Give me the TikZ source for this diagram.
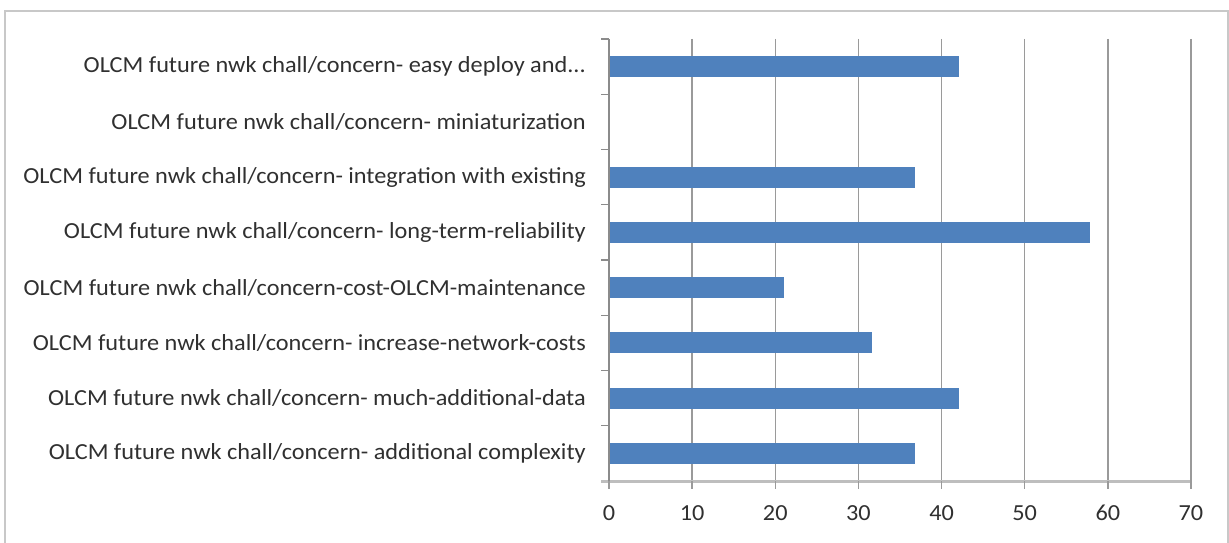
\documentclass[tikz,border=0pt]{standalone}
\usepackage{fontspec}
\usepackage{graphicx}
\setmainfont{Carlito}
\definecolor{barblue}{HTML}{4F81BD}
\definecolor{gridc}{HTML}{9A9A9A}
\definecolor{framec}{HTML}{C8C8C8}
\definecolor{axisc}{HTML}{BEBEBE}
\definecolor{textc}{HTML}{303030}
\newcommand{\stretchtxt}[1]{\scalebox{1.055}[1]{#1}}
\begin{document}
\begin{tikzpicture}[x=1pt,y=-1pt,
  catlabel/.style={anchor=east,inner sep=0pt,font=\fontsize{23}{27}\selectfont,text=textc},
  ticklabel/.style={anchor=center,inner sep=0pt,font=\fontsize{23}{27}\selectfont,text=textc},
  gridline/.style={draw=gridc,line width=1.4pt},
  bar/.style={fill=barblue,draw=none}]
\useasboundingbox (0,0) rectangle (1229,543);
\clip (0,0) rectangle (1229,543);
\fill[white] (0,0) rectangle (1229,543);
\draw[framec,line width=2.5pt] (5,11) rectangle (1228,580);
% gridlines and x ticks
\foreach \i in {1,...,7}{
  \draw[gridline] ({609+83.14*\i},39) -- ({609+83.14*\i},489);
}
% horizontal axis
\draw[axisc,line width=3pt] (601,481) -- (1190,481);
\foreach \i in {0,...,7}{
  \draw[gridc,line width=1.4pt] ({609+83.14*\i},481) -- ({609+83.14*\i},489);
  \node[ticklabel] (t\i) at ({609+83.14*\i},513) {\stretchtxt{\the\numexpr\i*10\relax}};
}
% bars (values of 19 responses, in percent)
\foreach \k/\v in {0/42.105,2/36.842,3/57.895,4/21.053,5/31.579,6/42.105,7/36.842}{
  \fill[barblue] (609,{39+55.25*(\k+0.5)-10.5}) rectangle ({609+8.314*\v},{39+55.25*(\k+0.5)+10.5});
}
% vertical axis and category ticks
\draw[gridc!90!black,line width=1.4pt] (609,39) -- (609,481);
\foreach \k in {0,...,7}{
  \draw[gridc!90!black,line width=1.4pt] (601,{39+55.25*\k}) -- (609,{39+55.25*\k});
}
% category labels
\foreach \k/\t in {0/{OLCM future nwk chall/concern- easy deploy and...},
  1/{OLCM future nwk chall/concern- miniaturization},
  2/{OLCM future nwk chall/concern- integration with existing},
  3/{OLCM future nwk chall/concern- long-term-reliability},
  4/{OLCM future nwk chall/concern-cost-OLCM-maintenance},
  5/{OLCM future nwk chall/concern- increase-network-costs},
  6/{OLCM future nwk chall/concern- much-additional-data},
  7/{OLCM future nwk chall/concern- additional complexity}}{
  \node[catlabel] (c\k) at (586,{39+55.25*(\k+0.5)}) {\stretchtxt{\t}};
}
\end{tikzpicture}
\end{document}
